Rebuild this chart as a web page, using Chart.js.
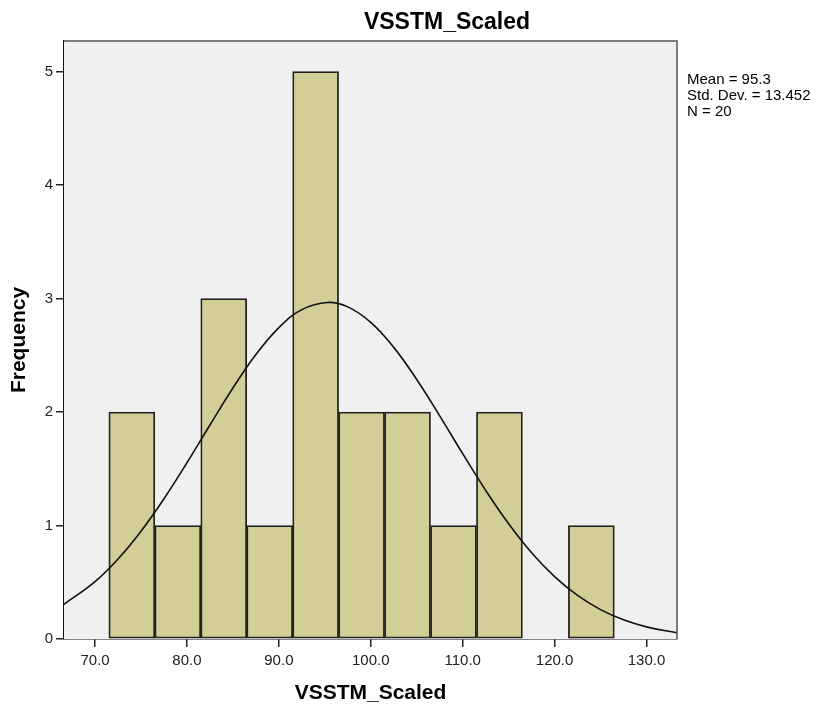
<head>
    <meta charset="UTF-8">
    <title>VSSTM_Scaled</title>
    <script src="https://cdn.jsdelivr.net/npm/chart.js"></script>
    <style>
        html, body { margin: 0; padding: 0; background: #fff; }
        #wrap { width: 819px; height: 710px; }
    </style>
</head>
<body>
<div id="wrap"><canvas id="hist"></canvas></div>
<script>
    // histogram bins (centres, width 5) and counts
    const binCenters = [74, 79, 84, 89, 94, 99, 104, 109, 114, 119, 124];
    const counts = [2, 1, 3, 1, 5, 2, 2, 1, 2, 0, 1];

    // fitted normal curve, read at these x positions
    const curveX = [66.6, 70, 72.5, 75, 77.5, 80, 82.5, 85, 87.5, 90, 92.5, 95.3, 97.5, 100, 102.5, 105,
        107.5, 110, 112.5, 115, 117.5, 120, 122.5, 125, 127.5, 130, 133.3];
    const curveY = [0.305, 0.506, 0.705, 0.950, 1.236, 1.553, 1.886, 2.212, 2.507, 2.744, 2.903, 2.966, 2.927, 2.790, 2.570, 2.287,
        1.966, 1.633, 1.310, 1.015, 0.760, 0.550, 0.384, 0.259, 0.169, 0.107, 0.055];

    const xTicks = [70, 80, 90, 100, 110, 120, 130];
    const yTicks = [0, 1, 2, 3, 4, 5];
    const statLines = ['Mean = 95.3', 'Std. Dev. = 13.452', 'N = 20'];
    const chartTitle = 'VSSTM_Scaled';

    const FONT = "'Liberation Sans', Arial, sans-serif";

    // plot background, top/right frame, title and stats text
    const decor = {
        id: 'decor',
        beforeDatasetsDraw(chart) {
            const {ctx, chartArea: a} = chart;
            ctx.save();
            ctx.fillStyle = '#f0f0f0';
            ctx.fillRect(a.left, a.top, a.right - a.left, a.bottom - a.top);
            ctx.restore();
        },
        afterDraw(chart) {
            const {ctx, chartArea: a} = chart;
            ctx.save();
            ctx.strokeStyle = '#555';
            ctx.lineWidth = 1.5;
            ctx.beginPath();
            ctx.moveTo(a.left, a.top);
            ctx.lineTo(a.right, a.top);
            ctx.lineTo(a.right, a.bottom);
            ctx.stroke();

            ctx.fillStyle = '#000';
            ctx.font = 'bold 23px ' + FONT;
            ctx.textAlign = 'center';
            ctx.textBaseline = 'middle';
            ctx.fillText(chartTitle, 447, 23);

            ctx.font = '15px ' + FONT;
            ctx.textAlign = 'left';
            statLines.forEach((t, i) => ctx.fillText(t, a.right + 10, 80 + i * 16));
            ctx.restore();
        }
    };

    new Chart(document.getElementById('hist'), {
        data: {
            datasets: [{
                type: 'line',
                data: curveX.map((x, i) => ({x: x, y: curveY[i]})),
                borderColor: '#111',
                borderWidth: 1.6,
                pointRadius: 0,
                tension: 0.4,
                fill: false,
                order: 0
            }, {
                type: 'bar',
                data: binCenters.map((x, i) => ({x: x, y: counts[i]})),
                backgroundColor: '#d3ce98',
                borderColor: '#222',
                borderWidth: 1.8,
                borderSkipped: false,
                barPercentage: 1,
                categoryPercentage: 1,
                order: 1
            }]
        },
        options: {
            responsive: true,
            maintainAspectRatio: false,
            animation: false,
            layout: { padding: { top: 41, right: 142, left: 0, bottom: 0 } },
            plugins: { legend: { display: false }, tooltip: { enabled: false } },
            scales: {
                x: {
                    type: 'linear',
                    min: 66.62,
                    max: 133.32,
                    offset: false,
                    afterBuildTicks: s => { s.ticks = xTicks.map(v => ({value: v})); },
                    afterFit: s => { s.height = 71; },
                    ticks: {
                        color: '#222',
                        font: { family: FONT, size: 15 },
                        padding: 5,
                        maxRotation: 0,
                        callback: v => Number(v).toFixed(1)
                    },
                    grid: { offset: false, drawOnChartArea: false, drawTicks: true, tickLength: 8, color: '#222', lineWidth: 1.5 },
                    border: { display: true, color: '#111', width: 1.5 },
                    title: {
                        display: true,
                        text: 'VSSTM_Scaled',
                        color: '#000',
                        font: { family: FONT, size: 21, weight: 'bold' },
                        padding: { top: 0, bottom: 4 }
                    }
                },
                y: {
                    type: 'linear',
                    min: 0,
                    max: 5.27,
                    afterBuildTicks: s => { s.ticks = yTicks.map(v => ({value: v})); },
                    afterFit: s => { s.width = 64; },
                    ticks: {
                        color: '#222',
                        font: { family: FONT, size: 15 },
                        padding: 3
                    },
                    grid: { drawOnChartArea: false, drawTicks: true, tickLength: 8, color: '#222', lineWidth: 1.5 },
                    border: { display: true, color: '#111', width: 1.5 },
                    title: {
                        display: true,
                        text: 'Frequency',
                        color: '#000',
                        font: { family: FONT, size: 21, weight: 'bold' },
                        padding: { top: 7, bottom: 0 }
                    }
                }
            }
        },
        plugins: [decor]
    });
</script>
</body>
